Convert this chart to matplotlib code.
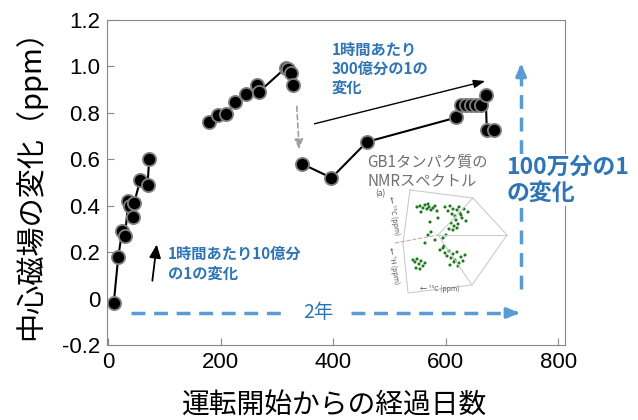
import matplotlib
matplotlib.use('Agg')
from matplotlib import pyplot as plt

plt.rcParams['font.family'] = ['Noto Sans CJK JP', 'DejaVu Sans']

# data
days_a = [10, 18, 25, 30, 36, 39, 45, 46, 57, 70, 73]
ppm_a = [-0.02, 0.18, 0.29, 0.27, 0.42, 0.40, 0.35, 0.41, 0.51, 0.49, 0.60]

days_b = [180, 195, 210, 225, 245, 264, 268, 316, 320, 325, 328]
ppm_b = [0.76, 0.79, 0.795, 0.845, 0.88, 0.92, 0.89, 0.995, 0.99, 0.97, 0.92]

days_c = [345, 397, 460, 619, 627, 636, 645, 653, 662, 671, 673, 685]
ppm_c = [0.58, 0.52, 0.675, 0.78, 0.834, 0.834, 0.834, 0.834, 0.834, 0.875, 0.727, 0.727]

yticks = [-0.2, 0, 0.2, 0.4, 0.6, 0.8, 1.0, 1.2]
ytick_labels = ['-0.2', '0', '0.2', '0.4', '0.6', '0.8', '1.0', '1.2']
xticks = [0, 200, 400, 600, 800]

# spectrum inset dots (inset pixel coords)
nmr_x = [52, 55, 58, 60, 62, 64, 66, 68, 70, 72, 56, 63,
         80, 83, 85, 87, 88, 90, 92, 94, 95, 97, 99, 101, 103, 86, 89, 91, 93, 96, 84, 88, 92,
         48, 50, 52, 54, 56, 58, 60, 51, 55,
         75, 78, 80, 82, 84, 86, 88, 90, 92, 94, 96, 98, 100, 85, 89, 93, 79,
         63, 65, 78, 66, 70, 60, 73, 81]
nmr_y = [19, 18, 20, 17, 21, 19, 22, 20, 18, 23, 24, 16,
         19, 23, 18, 26, 21, 28, 22, 19, 25, 30, 21, 33, 24, 35, 38, 32, 36, 27, 41, 42, 40,
         72, 74, 71, 76, 73, 78, 75, 80, 81,
         62, 60, 65, 68, 63, 70, 66, 72, 64, 75, 69, 73, 67, 77, 74, 78, 58,
         47, 34, 50, 44, 52, 55, 30, 47]

fig = plt.figure(figsize=(6.38, 4.2), dpi=100)
ax = fig.add_axes([107/638, 75/420, 458/638, 325/420])

for xs, ys in [(days_a, ppm_a), (days_b, ppm_b), (days_c, ppm_c)]:
    ax.plot(xs, ys, color='black', lw=1.5, marker='o', markersize=9.5,
            markerfacecolor='black', markeredgecolor='#808080', markeredgewidth=1.3)

ax.set_xlim(-2, 812)
ax.set_ylim(-0.2, 1.2)
ax.set_xticks(xticks)
ax.set_yticks(yticks)
ax.set_yticklabels(ytick_labels)
ax.tick_params(direction='in', length=5, color='#888888', labelsize=16, pad=5)
for lab in ax.get_xticklabels() + ax.get_yticklabels():
    lab.set_family('Liberation Sans')
for s in ax.spines.values():
    s.set_color('#888888')

fig.text(0.524, 0.034, '運転開始からの経過日数', fontsize=20, ha='center', va='center')
fig.text(0.047, 0.578, '中心磁場の変化（ppm）', fontsize=21, ha='center', va='center',
         rotation=90)

blue = '#2E75B6'
lblue = '#5B9BD5'

# early slope
ax.annotate('', xy=(87, 0.245), xytext=(78, 0.065),
            arrowprops=dict(arrowstyle='-|>,head_width=0.35,head_length=0.8',
                            color='black', lw=1.3))
ax.text(106, 0.15, '1時間あたり10億分\nの1の変化', color=blue, fontsize=11,
        fontweight='bold', va='center', ha='left', linespacing=1.25)

# later slope
ax.annotate('', xy=(675, 0.94), xytext=(362, 0.75),
            arrowprops=dict(arrowstyle='-|>,head_width=0.25,head_length=0.7',
                            color='black', lw=1.0))
ax.text(397, 0.99, '1時間あたり\n300億分の1の\n変化', color=blue, fontsize=11,
        fontweight='bold', va='center', ha='left', linespacing=1.25)

# gray dashed drop arrow
ax.annotate('', xy=(340, 0.63), xytext=(335, 0.84),
            arrowprops=dict(arrowstyle='-|>,head_width=0.25,head_length=0.6',
                            color='#a0a0a0', lw=1.2, ls=(0, (3, 2))))

# horizontal 2-year arrow
ax.plot([41, 316], [-0.062, -0.062], color=lblue, lw=2.5, dashes=(4, 2.5))
ax.plot([431, 722], [-0.062, -0.062], color=lblue, lw=2.5, dashes=(4, 2.5))
ax.annotate('', xy=(736, -0.062), xytext=(718, -0.062),
            arrowprops=dict(arrowstyle='-|>,head_width=0.3,head_length=0.7',
                            color=lblue, lw=2.5))
ax.text(374, -0.062, '2年', color=blue, fontsize=14, ha='center', va='center')

# vertical arrow
ax.plot([734, 734], [0.04, 0.98], color=lblue, lw=2.5, dashes=(4, 2.5))
ax.annotate('', xy=(734, 1.025), xytext=(734, 0.97),
            arrowprops=dict(arrowstyle='-|>,head_width=0.3,head_length=0.7',
                            color=lblue, lw=2.5))
ax.text(708, 0.51, '100万分の1\nの変化', color=blue, fontsize=16.5,
        fontweight='bold', va='center', ha='left', linespacing=1.2, zorder=5,
        bbox=dict(facecolor='white', edgecolor='none', pad=1))

ax.text(461, 0.545, 'GB1タンパク質の\nNMRスペクトル', color='#707070', fontsize=11,
        va='center', ha='left', linespacing=1.2)

# inset spectrum
ins = fig.add_axes([365/638, 120/420, 145/638, 112/420])
ins.set_xlim(0, 145)
ins.set_ylim(112, 0)
ins.axis('off')
hx = [45, 108, 142, 107, 43, 38, 45]
hy = [2, 10, 47, 97, 105, 55, 2]
ins.plot(hx, hy, color='#cccccc', lw=0.8)
ins.plot([73, 108], [47, 10], color='#cccccc', lw=0.8)
ins.plot([73, 107], [47, 97], color='#cccccc', lw=0.8)
ins.plot([73, 142], [47, 47], color='#cccccc', lw=0.8)
ins.plot([30, 73], [55, 47], color='#d9a0b0', lw=0.8, ls='--')
ins.scatter(nmr_x, nmr_y, s=5, color='#1a7a1a', edgecolors='none')
ins.text(15, 6, '(a)', fontsize=6, color='#555555', ha='center', va='center')
ins.text(75, 101, '← ¹³C (ppm)', fontsize=5, color='#555555', ha='center', va='center')
ins.text(28, 28, '← ¹³C (ppm)', fontsize=5, color='#555555', ha='center', va='center',
         rotation=-80)
ins.text(28, 78, '← ¹H (ppm)', fontsize=5, color='#555555', ha='center', va='center',
         rotation=-80)

fig.savefig('out.png', dpi=100)
